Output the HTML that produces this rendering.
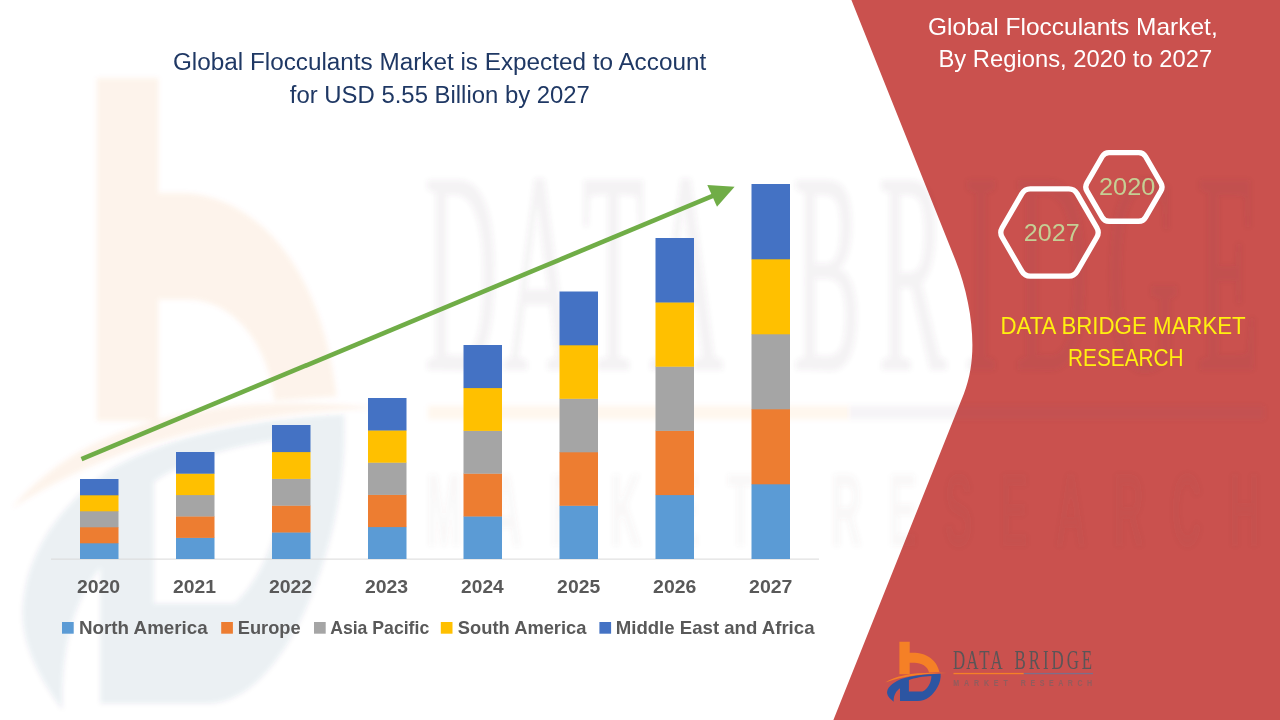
<!DOCTYPE html>
<html lang="en">
<head>
<meta charset="utf-8">
<title>Global Flocculants Market</title>
<style>
html,body{margin:0;padding:0;background:#ffffff;}
body{width:1280px;height:720px;overflow:hidden;font-family:"Liberation Sans",Arial,sans-serif;}
svg{display:block;position:absolute;left:0;top:0;}
text{font-family:"Liberation Sans",Arial,sans-serif;}
.serif{font-family:"Liberation Serif","DejaVu Serif",serif;}
.b{font-weight:bold;}
</style>
</head>
<body>
<svg width="1280" height="720" viewBox="0 0 1280 720">
<defs>
<filter id="wmblur" x="-10%" y="-10%" width="120%" height="120%"><feGaussianBlur stdDeviation="2.6"/></filter>
<g id="mark" stroke="none">
  <!-- orange b -->
  <path fill="currentColor" d="M0,0 H10.3 V10.9 H14 C24,10.9 37,16 40,30.2 L29.6,30.6 C28.3,24.5 22,21 15,21 H10.3 V32.5 H0 Z"/>
  <!-- orange swoosh -->
  <path fill="currentColor" d="M-14.2,40.8 C-2,32.5 20,29.6 47.4,31.3 C25,31.6 4,34.2 -14.2,40.8 Z"/>
  <!-- blue swoosh + D -->
  <path fill-rule="evenodd" d="M-5.7,59.9 C-9.5,57 -12.8,53.5 -12.3,50 C-11.5,44 -4,39.5 2.6,37 C12,34 25,32.3 41.2,31.9 C41.6,36 40.5,41 38,45.5 C34,53 27,59.3 18.3,59.3 L0.6,59.3 L0.6,46.4 C-3,49 -6,53 -5.7,59.9 Z M9.5,38.3 C15,36 24,34.6 32,34.2 C31.8,41 28.5,47 23,49.8 L9.5,49.8 Z"/>
</g>
<g id="ltext">
  <text class="serif" transform="translate(53.61,27.6) scale(0.62,1)" font-size="27.2" fill="#5a5557" letter-spacing="1.544" style="font-kerning:none">DATA</text>
  <text class="serif" transform="translate(115.11,27.6) scale(0.62,1)" font-size="27.2" fill="#5a5557" letter-spacing="4.792" style="font-kerning:none">BRIDGE</text>
  <rect x="54.1" y="31.1" width="70.3" height="1.3" fill="#F58026" stroke="none"/>
  <rect x="124.4" y="31.1" width="69.2" height="1.3" fill="#7d6f8a" stroke="none"/>
</g>
<g id="lsub" stroke="none">
  <text class="b" transform="translate(53.83,44.4) scale(0.72,1)" font-size="9.8" fill="#6b6568" letter-spacing="6.769" style="font-kerning:none">MARKET</text>
  <text class="b" transform="translate(121.33,44.4) scale(0.72,1)" font-size="9.8" fill="#6b6568" letter-spacing="6.339" style="font-kerning:none">RESEARCH</text>
</g>
</defs>
<rect x="0" y="0" width="1280" height="720" fill="#ffffff"/>

<path fill="#CA514E" d="M851.4,0 L955.4,260 C966.4,288 972.4,318 972.4,345 C972.4,362 969.9,378 963.8,394 L833.4,720 L1280,720 L1280,0 Z"/>
<g filter="url(#wmblur)"><g opacity="0.078" color="#E56525" fill="#183F72" transform="translate(96.7,78) scale(6,10.55)"><use href="#mark"/></g><g opacity="0.068" transform="translate(103.7,78) scale(5.994,10.54)" stroke="#5a5557" stroke-width="0.22"><use href="#ltext"/></g><g opacity="0.045" transform="translate(103.7,78) scale(5.994,10.54)"><use href="#lsub"/></g></g>
<rect x="51" y="558.6" width="768" height="1" fill="#D9D9D9"/>
<rect x="80" y="543.00" width="38.5" height="16.00" fill="#5B9BD5"/>
<rect x="80" y="527.00" width="38.5" height="16.30" fill="#ED7D31"/>
<rect x="80" y="511.00" width="38.5" height="16.30" fill="#A5A5A5"/>
<rect x="80" y="495.00" width="38.5" height="16.30" fill="#FFC000"/>
<rect x="80" y="479.00" width="38.5" height="16.30" fill="#4472C4"/>
<rect x="176" y="537.60" width="38.5" height="21.40" fill="#5B9BD5"/>
<rect x="176" y="516.20" width="38.5" height="21.70" fill="#ED7D31"/>
<rect x="176" y="494.80" width="38.5" height="21.70" fill="#A5A5A5"/>
<rect x="176" y="473.40" width="38.5" height="21.70" fill="#FFC000"/>
<rect x="176" y="452.00" width="38.5" height="21.70" fill="#4472C4"/>
<rect x="272" y="532.20" width="38.5" height="26.80" fill="#5B9BD5"/>
<rect x="272" y="505.40" width="38.5" height="27.10" fill="#ED7D31"/>
<rect x="272" y="478.60" width="38.5" height="27.10" fill="#A5A5A5"/>
<rect x="272" y="451.80" width="38.5" height="27.10" fill="#FFC000"/>
<rect x="272" y="425.00" width="38.5" height="27.10" fill="#4472C4"/>
<rect x="368" y="526.80" width="38.5" height="32.20" fill="#5B9BD5"/>
<rect x="368" y="494.60" width="38.5" height="32.50" fill="#ED7D31"/>
<rect x="368" y="462.40" width="38.5" height="32.50" fill="#A5A5A5"/>
<rect x="368" y="430.20" width="38.5" height="32.50" fill="#FFC000"/>
<rect x="368" y="398.00" width="38.5" height="32.50" fill="#4472C4"/>
<rect x="463.5" y="516.20" width="38.5" height="42.80" fill="#5B9BD5"/>
<rect x="463.5" y="473.40" width="38.5" height="43.10" fill="#ED7D31"/>
<rect x="463.5" y="430.60" width="38.5" height="43.10" fill="#A5A5A5"/>
<rect x="463.5" y="387.80" width="38.5" height="43.10" fill="#FFC000"/>
<rect x="463.5" y="345.00" width="38.5" height="43.10" fill="#4472C4"/>
<rect x="559.5" y="505.50" width="38.5" height="53.50" fill="#5B9BD5"/>
<rect x="559.5" y="452.00" width="38.5" height="53.80" fill="#ED7D31"/>
<rect x="559.5" y="398.50" width="38.5" height="53.80" fill="#A5A5A5"/>
<rect x="559.5" y="345.00" width="38.5" height="53.80" fill="#FFC000"/>
<rect x="559.5" y="291.50" width="38.5" height="53.80" fill="#4472C4"/>
<rect x="655.5" y="494.80" width="38.5" height="64.20" fill="#5B9BD5"/>
<rect x="655.5" y="430.60" width="38.5" height="64.50" fill="#ED7D31"/>
<rect x="655.5" y="366.40" width="38.5" height="64.50" fill="#A5A5A5"/>
<rect x="655.5" y="302.20" width="38.5" height="64.50" fill="#FFC000"/>
<rect x="655.5" y="238.00" width="38.5" height="64.50" fill="#4472C4"/>
<rect x="751.5" y="484.00" width="38.5" height="75.00" fill="#5B9BD5"/>
<rect x="751.5" y="409.00" width="38.5" height="75.30" fill="#ED7D31"/>
<rect x="751.5" y="334.00" width="38.5" height="75.30" fill="#A5A5A5"/>
<rect x="751.5" y="259.00" width="38.5" height="75.30" fill="#FFC000"/>
<rect x="751.5" y="184.00" width="38.5" height="75.30" fill="#4472C4"/>
<text class="b" x="76.93" y="593.1" font-size="18.8" fill="#595959" textLength="43.27" lengthAdjust="spacingAndGlyphs">2020</text>
<text class="b" x="172.93" y="593.1" font-size="18.8" fill="#595959" textLength="43.01" lengthAdjust="spacingAndGlyphs">2021</text>
<text class="b" x="268.93" y="593.1" font-size="18.8" fill="#595959" textLength="43.25" lengthAdjust="spacingAndGlyphs">2022</text>
<text class="b" x="364.93" y="593.1" font-size="18.8" fill="#595959" textLength="43.17" lengthAdjust="spacingAndGlyphs">2023</text>
<text class="b" x="461.14" y="593.1" font-size="18.8" fill="#595959" textLength="42.57" lengthAdjust="spacingAndGlyphs">2024</text>
<text class="b" x="557.13" y="593.1" font-size="18.8" fill="#595959" textLength="43.01" lengthAdjust="spacingAndGlyphs">2025</text>
<text class="b" x="653.13" y="593.1" font-size="18.8" fill="#595959" textLength="43.17" lengthAdjust="spacingAndGlyphs">2026</text>
<text class="b" x="749.12" y="593.1" font-size="18.8" fill="#595959" textLength="43.33" lengthAdjust="spacingAndGlyphs">2027</text>
<rect x="62" y="622" width="11.7" height="11.7" fill="#5B9BD5"/>
<text class="b" x="79.05" y="633.8" font-size="19" fill="#595959" textLength="128.63" lengthAdjust="spacingAndGlyphs">North America</text>
<rect x="221.2" y="622" width="11.7" height="11.7" fill="#ED7D31"/>
<text class="b" x="237.78" y="633.8" font-size="19" fill="#595959" textLength="62.84" lengthAdjust="spacingAndGlyphs">Europe</text>
<rect x="314" y="622" width="11.7" height="11.7" fill="#A5A5A5"/>
<text class="b" x="330.16" y="633.8" font-size="19" fill="#595959" textLength="99.06" lengthAdjust="spacingAndGlyphs">Asia Pacific</text>
<rect x="440.8" y="622" width="11.7" height="11.7" fill="#FFC000"/>
<text class="b" x="457.87" y="633.8" font-size="19" fill="#595959" textLength="128.61" lengthAdjust="spacingAndGlyphs">South America</text>
<rect x="599.4" y="622" width="11.7" height="11.7" fill="#4472C4"/>
<text class="b" x="615.76" y="633.8" font-size="19" fill="#595959" textLength="198.72" lengthAdjust="spacingAndGlyphs">Middle East and Africa</text>
<line x1="81.5" y1="459.2" x2="714" y2="195.3" stroke="#70AD47" stroke-width="4.6"/>
<polygon points="734.6,186.7 707.3,185 717,206.8" fill="#70AD47"/>
<text x="172.98" y="70.4" font-size="23.1" fill="#1F3864" textLength="533.20" lengthAdjust="spacingAndGlyphs">Global Flocculants Market is Expected to Account</text>
<text x="289.86" y="102.5" font-size="23.1" fill="#1F3864" textLength="300.04" lengthAdjust="spacingAndGlyphs">for USD 5.55 Billion by 2027</text>
<text x="928.07" y="34.9" font-size="23.2" fill="#ffffff" textLength="289.63" lengthAdjust="spacingAndGlyphs">Global Flocculants Market,</text>
<text x="938.45" y="66.6" font-size="23.2" fill="#ffffff" textLength="273.75" lengthAdjust="spacingAndGlyphs">By Regions, 2020 to 2027</text>
<path d="M1086.86,190.84 Q1084.60,186.95 1086.86,183.06 L1102.24,156.54 Q1104.50,152.65 1109.00,152.65 L1138.80,152.65 Q1143.30,152.65 1145.56,156.54 L1160.94,183.06 Q1163.20,186.95 1160.94,190.84 L1145.56,217.36 Q1143.30,221.25 1138.80,221.25 L1109.00,221.25 Q1104.50,221.25 1102.24,217.36 Z" fill="none" stroke="#ffffff" stroke-width="5.3" stroke-linejoin="round"/>
<path d="M1002.16,237.26 Q999.40,232.50 1002.16,227.74 L1021.94,193.56 Q1024.70,188.80 1030.20,188.80 L1068.80,188.80 Q1074.30,188.80 1077.06,193.56 L1096.84,227.74 Q1099.60,232.50 1096.84,237.26 L1077.06,271.44 Q1074.30,276.20 1068.80,276.20 L1030.20,276.20 Q1024.70,276.20 1021.94,271.44 Z" fill="none" stroke="#ffffff" stroke-width="5.3" stroke-linejoin="round"/>
<text x="1099.03" y="194.7" font-size="23.8" fill="#C5CF94" textLength="56.26" lengthAdjust="spacingAndGlyphs">2020</text>
<text x="1023.84" y="240.9" font-size="23.8" fill="#C5CF94" textLength="55.82" lengthAdjust="spacingAndGlyphs">2027</text>
<text x="1000.41" y="333.8" font-size="23.6" fill="#FFF010" textLength="245.29" lengthAdjust="spacingAndGlyphs">DATA BRIDGE MARKET</text>
<text x="1067.99" y="365.9" font-size="23.6" fill="#FFF010" textLength="115.60" lengthAdjust="spacingAndGlyphs">RESEARCH</text>
<g transform="translate(899.4,641.8)"><use href="#mark" color="#F58026" fill="#2C55A2"/><use href="#ltext"/><use href="#lsub" opacity="0.6"/></g>
</svg>
</body>
</html>
